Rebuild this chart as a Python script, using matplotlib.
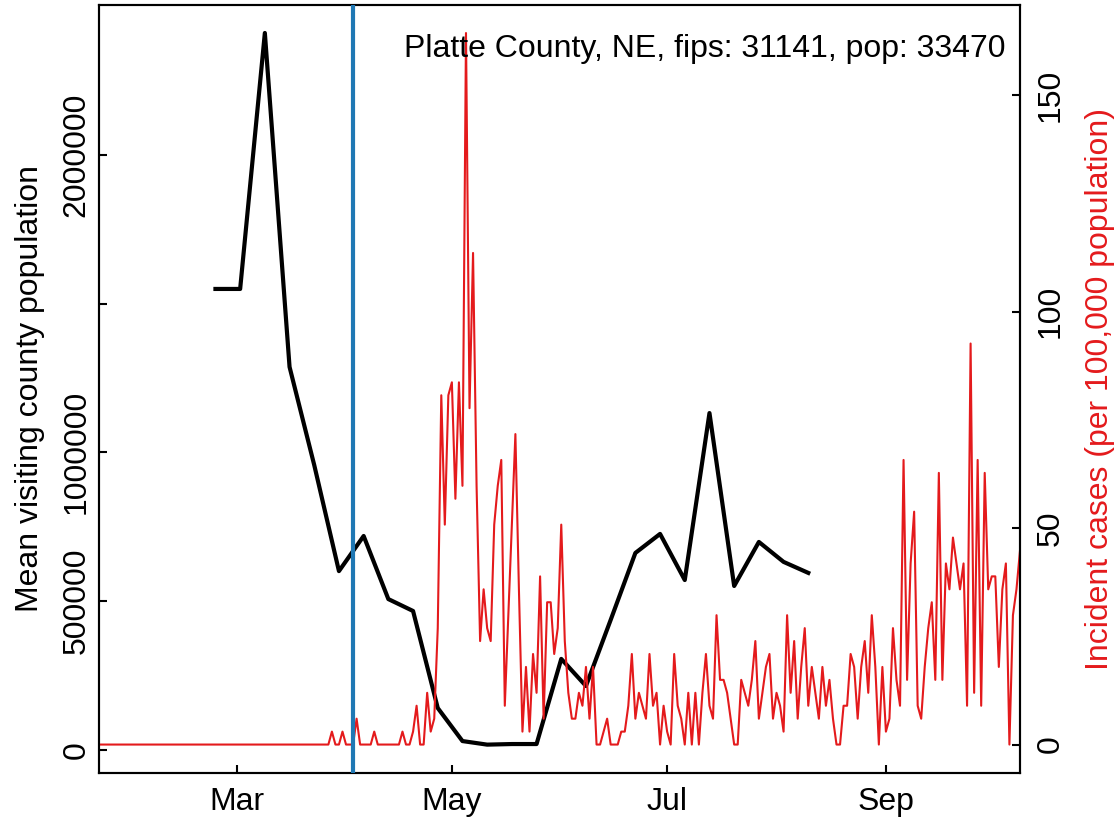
import matplotlib
matplotlib.use("Agg")
import matplotlib.pyplot as plt
import matplotlib.dates as mdates
import numpy as np
import pandas as pd

plt.rcParams['font.family'] = ['Liberation Sans', 'DejaVu Sans']

# ---------------- data ----------------
title = "Platte County, NE, fips: 31141, pop: 33470"
population = 33470

# daily new cases, starting 2020-01-22
case_start = "2020-01-22"
daily_cases = [
    # Jan 22 - Mar 27
    0, 0, 0, 0, 0, 0, 0, 0, 0, 0, 0, 0, 0, 0, 0, 0, 0, 0, 0, 0,
    0, 0, 0, 0, 0, 0, 0, 0, 0, 0, 0, 0, 0, 0, 0, 0, 0, 0, 0, 0,
    0, 0, 0, 0, 0, 0, 0, 0, 0, 0, 0, 0, 0, 0, 0, 0, 0, 0, 0, 0,
    0, 0, 0, 0, 0, 0,
    # Mar 28 - Apr 29
    1, 0, 0, 1, 0, 0, 0, 2, 0, 0, 0, 0, 1, 0, 0, 0, 0, 0, 0, 0,
    1, 0, 0, 1, 3, 0, 0, 4, 1, 2, 9, 27, 17,
    # Apr 30 - Jun 5
    27, 28, 19, 28, 20, 55, 26, 38, 20, 8, 12, 9, 8, 17, 20, 22,
    3, 10, 17, 24, 12, 1, 6, 1, 7, 4, 13, 2, 11, 11, 7, 9, 17, 8,
    4, 2, 2, 4,
    # Jun 6 - Sep 2
    3, 6, 2, 6, 0, 0, 1, 2, 0, 0, 0, 1, 1, 3, 7, 2, 4, 3, 2, 7,
    3, 4, 0, 3, 1, 0, 7, 3, 2, 0, 4, 0, 4, 0, 4, 7, 3, 2, 10, 5,
    5, 4, 2, 0, 0, 5, 4, 3, 5, 8, 2, 4, 6, 7, 2, 4, 3, 1, 10, 4,
    8, 2, 6, 9, 3, 6, 4, 2, 6, 3, 5, 2, 0, 0, 3, 3, 7, 6, 2, 6,
    8, 4, 10, 6, 0, 6, 1, 2, 9,
    # Sep 3 - Oct 9
    5, 3, 22, 5, 14, 18, 3, 2, 6, 9, 11, 5, 21, 5, 14, 12, 16, 14,
    12, 14, 3, 31, 4, 22, 3, 21, 12, 13, 13, 6, 12, 14, 0, 10, 12, 15,
]

# weekly mean visiting population, starting 2020-02-24
visit_start = "2020-02-24"
mean_visiting = [
    1549000, 1549000, 2409000, 1287000, 957000, 601000, 719000, 507000,
    467000, 141000, 30000, 18000, 20000, 20000, 306000, 215000, 437000,
    662000, 726000, 571000, 1132000, 551000, 699000, 632000, 595000,
]

intervention_date = "2020-04-03"

x_limits = ("2020-01-22", "2020-10-09")
month_ticks = ["2020-03-01", "2020-05-01", "2020-07-01", "2020-09-01"]
month_labels = ["Mar", "May", "Jul", "Sep"]
left_ticks = [0, 500000, 1000000, 1500000, 2000000]
left_labels = ["0", "500000", "1000000", "", "2000000"]
right_ticks = [0, 50, 100, 150]
right_labels = ["0", "50", "100", "150"]

# ---------------- derived ----------------
case_dates = pd.date_range(case_start, periods=len(daily_cases), freq="D")
visit_dates = pd.date_range(visit_start, periods=len(mean_visiting), freq="7D")
incidence = np.array(daily_cases, dtype=float) / population * 1e5

RED = "#E41A1C"
BLUE = "#1F78B4"
FS = 23

W, H = 1119, 822
fig = plt.figure(figsize=(W / 100, H / 100), dpi=100)
L, R, T, B = 99, 1020, 5, 773
ax = fig.add_axes([L / W, 1 - B / H, (R - L) / W, (B - T) / H])

ax.plot(visit_dates, mean_visiting, color="black", lw=3, zorder=3)
ax.set_ylim(-77300, 2503000)
ax.set_xlim(pd.Timestamp(x_limits[0]), pd.Timestamp(x_limits[1]))

ax2 = ax.twinx()
ax2.plot(case_dates, incidence, color=RED, lw=1.5, zorder=2)
ax2.axvline(pd.Timestamp(intervention_date), color=BLUE, lw=3, zorder=4)
ax2.set_ylim(-6.57, 170.8)
ax2.set_xlim(pd.Timestamp(x_limits[0]), pd.Timestamp(x_limits[1]))

ax.set_xticks([pd.Timestamp(d) for d in month_ticks])
ax.set_xticklabels(month_labels, fontsize=FS)
ax.set_yticks(left_ticks)
ax.set_yticklabels(left_labels, fontsize=FS, rotation=90, va="center", ha="right")
ax2.set_yticks(right_ticks)
ax2.set_yticklabels(right_labels, fontsize=FS, rotation=90, va="center", ha="left")

ax.tick_params(axis="y", direction="in", length=6, width=1.5, pad=5.5)
ax.tick_params(axis="x", direction="in", length=6, width=1.5, pad=10)
ax2.tick_params(axis="y", direction="in", length=6, width=1.5, pad=11)

for a in (ax, ax2):
    for s in a.spines.values():
        s.set_linewidth(1.5)

ax.set_ylabel("Mean visiting county population", fontsize=FS, labelpad=12)
ax2.set_ylabel("Incident cases (per 100,000 population)", fontsize=FS,
               color=RED, labelpad=14)

fig.text(1005 / W, 1 - 57 / H, title, fontsize=FS, ha="right", va="baseline")

fig.savefig("out.png", dpi=100)
